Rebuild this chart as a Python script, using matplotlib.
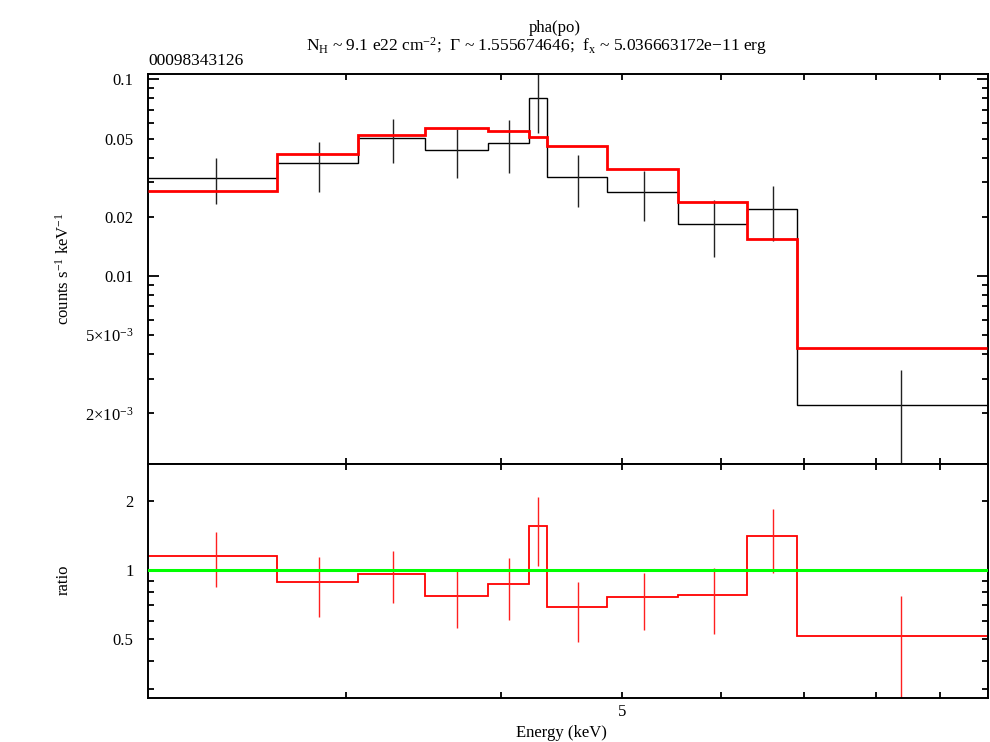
import numpy as np
import matplotlib
matplotlib.use("Agg")
import matplotlib.pyplot as plt
from matplotlib.ticker import FixedLocator, FixedFormatter, NullFormatter

plt.rcParams['font.family'] = ['Liberation Serif', 'DejaVu Serif']
plt.rcParams['mathtext.fontset'] = 'custom'
plt.rcParams['mathtext.rm'] = 'Liberation Serif'
plt.rcParams['mathtext.it'] = 'Liberation Serif:italic'
plt.rcParams['mathtext.bf'] = 'Liberation Serif:bold'

# ---- data ----
energy_edges = [2.08, 2.64, 3.07, 3.47, 3.90, 4.21, 4.35, 4.86, 5.55, 6.30, 6.91, 9.83]
data_rate = [0.0314, 0.0374, 0.0503, 0.0437, 0.0475, 0.0800, 0.0318, 0.0266, 0.0184, 0.0219, 0.0022]
data_err = [0.0083, 0.0108, 0.0128, 0.0121, 0.0143, 0.0265, 0.0094, 0.0076, 0.0059, 0.0068, 0.00112]
model_rate = [0.0272, 0.0418, 0.0523, 0.0563, 0.0546, 0.0511, 0.0458, 0.0351, 0.0238, 0.0154, 0.00432]
ratio = [1.155, 0.884, 0.964, 0.772, 0.866, 1.566, 0.686, 0.759, 0.774, 1.414, 0.512]
ratio_err = [0.31, 0.26, 0.247, 0.214, 0.26, 0.525, 0.203, 0.21, 0.249, 0.446, 0.257]

top_major_ticks = [0.01, 0.1]
top_major_labels = ['0.01', '0.1']
top_minor_ticks = [0.002, 0.003, 0.004, 0.005, 0.006, 0.007, 0.008, 0.009,
                   0.02, 0.03, 0.04, 0.05, 0.06, 0.07, 0.08, 0.09]
top_minor_labels = ['2×10$^{-3}$', '', '', '5×10$^{-3}$', '', '', '', '',
                    '0.02', '', '', '0.05', '', '', '', '']
ratio_major_ticks = [0.5, 1, 2]
ratio_major_labels = ['0.5', '1', '2']
ratio_minor_ticks = [0.3, 0.4, 0.6, 0.7, 0.8, 0.9]
x_major_ticks = [5]
x_major_labels = ['5']
x_minor_ticks = [3, 4, 6, 7, 8, 9]

title_line1 = 'pha(po)'
title_line2 = r'N$_{\mathrm{H}}$ ~ 9.1 e22 cm$^{-2}$;  Γ ~ 1.555674646;  f$_{\mathrm{x}}$ ~ 5.036663172e−11 erg'
obs_id = '00098343126'

edges = np.array(energy_edges)
centers = 0.5 * (edges[:-1] + edges[1:])

W, H = 990, 742
fig = plt.figure(figsize=(W / 100, H / 100), dpi=100)
ax1 = fig.add_axes([148 / W, 1 - 464 / H, 840 / W, 390 / H])
ax2 = fig.add_axes([148 / W, 1 - 697.5 / H, 840 / W, 233.5 / H])

# top panel
ax1.stairs(data_rate, edges, color='black', lw=1.0, baseline=None, zorder=2)
ax1.errorbar(centers, data_rate, yerr=data_err, fmt='none', ecolor='#222222',
             elinewidth=1.0, capsize=0, zorder=2)
ax1.stairs(model_rate, edges, color='#ff0000', lw=2.0, baseline=None, zorder=3)
ax1.set_xscale('log')
ax1.set_yscale('log')
ax1.set_xlim(2.08, 9.84)
ax1.set_ylim(1.107e-3, 0.1064)

# ratio panel
ax2.stairs(ratio, edges, color='#ff0000', lw=1.3, baseline=None, zorder=2)
ax2.errorbar(centers, ratio, yerr=ratio_err, fmt='none', ecolor='#ff2020',
             elinewidth=1.0, capsize=0, zorder=2)
ax2.axhline(1.0, color='#00ff00', lw=2.2, zorder=3)
ax2.set_xscale('log')
ax2.set_yscale('log')
ax2.set_xlim(2.08, 9.84)
ax2.set_ylim(0.2765, 2.917)

for ax in (ax1, ax2):
    for s in ax.spines.values():
        s.set_linewidth(1.4)
    ax.xaxis.set_major_locator(FixedLocator(x_major_ticks))
    ax.xaxis.set_minor_locator(FixedLocator(x_minor_ticks))
    ax.xaxis.set_minor_formatter(NullFormatter())
    ax.tick_params(which='both', direction='in', top=True, right=True,
                   width=1.3, labelsize=12)
    ax.tick_params(which='both', axis='x', length=4, pad=5)
    ax.tick_params(which='both', axis='y', pad=10.5)

ax1.xaxis.set_major_formatter(NullFormatter())
ax2.xaxis.set_major_formatter(FixedFormatter(x_major_labels))

ax1.yaxis.set_major_locator(FixedLocator(top_major_ticks))
ax1.yaxis.set_major_formatter(FixedFormatter(top_major_labels))
ax1.yaxis.set_minor_locator(FixedLocator(top_minor_ticks))
ax1.yaxis.set_minor_formatter(FixedFormatter(top_minor_labels))
ax1.tick_params(axis='y', which='major', length=8)
ax1.tick_params(axis='y', which='minor', length=4)

ax2.yaxis.set_major_locator(FixedLocator(ratio_major_ticks))
ax2.yaxis.set_major_formatter(FixedFormatter(ratio_major_labels))
ax2.yaxis.set_minor_locator(FixedLocator(ratio_minor_ticks))
ax2.yaxis.set_minor_formatter(NullFormatter())
ax2.tick_params(axis='y', which='both', length=4)

# texts
fig.text(555 / W, 1 - 32 / H, title_line1, ha='center', va='baseline', fontsize=12)
fig.text(536 / W, 1 - 51 / H, title_line2, ha='center', va='baseline', fontsize=12.5)
fig.text(148 / W, 1 - 65 / H, obs_id, ha='left', va='baseline', fontsize=12.5)
fig.text(64 / W, 1 - 269 / H, 'counts s$^{-1}$ keV$^{-1}$', rotation=90,
         ha='center', va='center', fontsize=12)
fig.text(64 / W, 1 - 580 / H, 'ratio', rotation=90, ha='center', va='center', fontsize=12)
fig.text(561 / W, 1 - 737 / H, 'Energy (keV)', ha='center', va='baseline', fontsize=12)

fig.savefig('out.png', dpi=100)
